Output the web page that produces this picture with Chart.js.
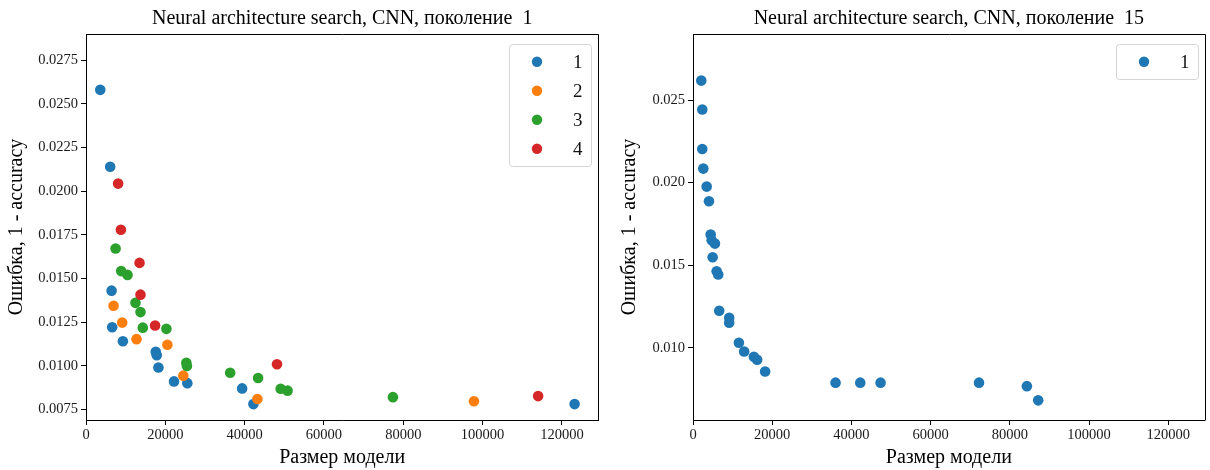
<!DOCTYPE html>
<html>
<head>
<meta charset="utf-8">
<script src="https://cdn.jsdelivr.net/npm/chart.js"></script>
<style>
  body { margin: 0; background: #fff; }
  #wrap { position: relative; width: 1210px; height: 470px; }
  canvas { position: absolute; top: 0; }
  #gen1 { left: 0; }
  #gen15 { left: 605px; }
</style>
</head>
<body>
<div id="wrap">
  <canvas id="gen1" width="605" height="470"></canvas>
  <canvas id="gen15" width="605" height="470"></canvas>
</div>
<script>
// data //
const seriesLabels = ['1', '2', '3', '4'];
const seriesColors = ['#1f77b4', '#ff7f0e', '#2ca02c', '#d62728'];

// generation 1, model size / error, one pair per group
const size1 = [3600, 6100, 6450, 6600, 9300, 17590, 17840, 18260, 22190, 25550, 39370, 42210, 123200];
const err1 = [0.0258, 0.0214, 0.0143, 0.0122, 0.0114, 0.0108, 0.0106, 0.0099, 0.0091, 0.0090, 0.0087, 0.0078, 0.0078];
const size2 = [6950, 9130, 12740, 20520, 24540, 43220, 97820];
const err2 = [0.01343, 0.01247, 0.01152, 0.0112, 0.00943, 0.00809, 0.00796];
const size3 = [7460, 8870, 10470, 12480, 13740, 14320, 20270, 25300, 25450, 36350, 43390, 49080, 50830, 77390];
const err3 = [0.01671, 0.01542, 0.0152, 0.0136, 0.01307, 0.01218, 0.01211, 0.01017, 0.00998, 0.0096, 0.0093, 0.00868, 0.00857, 0.0082];
const size4 = [8100, 8800, 13500, 13740, 17420, 48160, 114000];
const err4 = [0.02043, 0.01779, 0.01589, 0.01407, 0.0123, 0.01008, 0.00826];

// generation 15, single group
const size15 = [2090, 2340, 2340, 2600, 3450, 4030, 4460, 4710, 5540, 4960, 5970, 6370, 6620, 9140, 9140,
    11590, 12920, 15370, 16200, 18210, 35990, 42230, 47360, 72220, 84300, 87160];
const err15 = [0.02618, 0.02443, 0.02204, 0.02085, 0.01976, 0.01887, 0.01686, 0.01651, 0.01631, 0.01548, 0.01464, 0.01444, 0.01224, 0.01182, 0.01152,
    0.01031, 0.00978, 0.00946, 0.00928, 0.00857, 0.00789, 0.00789, 0.00789, 0.00789, 0.00768, 0.00682];

// tick labels
const xTicks = [0, 20000, 40000, 60000, 80000, 100000, 120000];
const yTicks1 = [0.0075, 0.0100, 0.0125, 0.0150, 0.0175, 0.0200, 0.0225, 0.0250, 0.0275];
const yTicks15 = [0.010, 0.015, 0.020, 0.025];

const FONT = '"Liberation Serif", "Times New Roman", serif';

function toPoints(xs, ys) {
    return xs.map((x, i) => ({ x: x, y: ys[i] }));
}

// top + right spines, matplotlib style box
const frame = {
    id: 'frame',
    afterDraw(chart) {
        const ctx = chart.ctx;
        const a = chart.chartArea;
        ctx.save();
        ctx.strokeStyle = '#000';
        ctx.lineWidth = 1;
        ctx.beginPath();
        ctx.moveTo(Math.round(a.left) + 0.5, Math.round(a.top) + 0.5);
        ctx.lineTo(Math.round(a.right) + 0.5, Math.round(a.top) + 0.5);
        ctx.lineTo(Math.round(a.right) + 0.5, Math.round(a.bottom) + 0.5);
        ctx.stroke();
        ctx.restore();
    }
};

// legend box in the upper right corner of the plot
const boxLegend = {
    id: 'boxLegend',
    afterDraw(chart) {
        const ctx = chart.ctx;
        const a = chart.chartArea;
        const sets = chart.data.datasets;
        const w = 82, row = 29;
        const h = 35 + (sets.length - 1) * row;
        const x = Math.round(a.right - 7 - w);
        const y = Math.round(a.top + 10);
        ctx.save();
        ctx.fillStyle = 'rgba(255,255,255,0.8)';
        ctx.strokeStyle = '#d4d4d4';
        ctx.lineWidth = 1;
        ctx.beginPath();
        ctx.roundRect(x + 0.5, y + 0.5, w, h, 3);
        ctx.fill();
        ctx.stroke();
        ctx.font = '19px ' + FONT;
        ctx.textBaseline = 'middle';
        sets.forEach((ds, i) => {
            const cy = y + 17.7 + i * row;
            ctx.fillStyle = ds.backgroundColor;
            ctx.beginPath();
            ctx.arc(x + 28, cy, 5.2, 0, Math.PI * 2);
            ctx.fill();
            ctx.fillStyle = '#111';
            ctx.fillText(ds.label, x + 64, cy + 1);
        });
        ctx.restore();
    }
};

function makeChart(id, title, datasets, yTicks, yDigits, yMin, yMax, yWidth, yTitlePad, rightPad) {
    return new Chart(document.getElementById(id), {
        type: 'scatter',
        data: { datasets: datasets },
        options: {
            responsive: false,
            animation: false,
            layout: { padding: { right: rightPad } },
            plugins: {
                legend: { display: false },
                tooltip: { enabled: false },
                title: {
                    display: true,
                    text: title,
                    fullSize: false,
                    color: '#000',
                    font: { family: FONT, size: 20, weight: 'normal', lineHeight: 1.2 },
                    padding: { top: 7, bottom: 3 }
                }
            },
            scales: {
                x: {
                    type: 'linear',
                    min: 0,
                    max: 129200,
                    afterBuildTicks: (scale) => { scale.ticks = xTicks.map(v => ({ value: v })); },
                    afterFit: (scale) => { scale.height = 50; },
                    grid: { drawOnChartArea: false, drawTicks: true, tickLength: 5, color: '#000' },
                    border: { display: true, color: '#000' },
                    ticks: {
                        color: '#1a1a1a',
                        padding: 1,
                        maxRotation: 0,
                        font: { family: FONT, size: 14.5 },
                        callback: (v) => String(v)
                    },
                    title: {
                        display: true,
                        text: 'Размер модели',
                        color: '#000',
                        font: { family: FONT, size: 20, lineHeight: 1.2 },
                        padding: { top: 0, bottom: 0 }
                    }
                },
                y: {
                    type: 'linear',
                    min: yMin,
                    max: yMax,
                    afterBuildTicks: (scale) => { scale.ticks = yTicks.map(v => ({ value: v })); },
                    afterFit: (scale) => { scale.width = yWidth; },
                    grid: { drawOnChartArea: false, drawTicks: true, tickLength: 5, color: '#000' },
                    border: { display: true, color: '#000' },
                    ticks: {
                        color: '#1a1a1a',
                        padding: 3,
                        font: { family: FONT, size: 14.5 },
                        callback: (v) => Number(v).toFixed(yDigits)
                    },
                    title: {
                        display: true,
                        text: 'Ошибка, 1 - accuracy',
                        color: '#000',
                        font: { family: FONT, size: 20, lineHeight: 1.2 },
                        padding: { top: yTitlePad, bottom: 0 }
                    }
                }
            }
        },
        plugins: [frame, boxLegend]
    });
}

function scatterSet(label, color, pts, order) {
    return {
        label: label,
        data: pts,
        backgroundColor: color,
        borderWidth: 0,
        pointRadius: 5.3,
        pointHoverRadius: 5.3,
        order: order
    };
}

// later groups drawn on top like in matplotlib
const gen1Sets = [
    scatterSet(seriesLabels[0], seriesColors[0], toPoints(size1, err1), 3),
    scatterSet(seriesLabels[1], seriesColors[1], toPoints(size2, err2), 2),
    scatterSet(seriesLabels[2], seriesColors[2], toPoints(size3, err3), 1),
    scatterSet(seriesLabels[3], seriesColors[3], toPoints(size4, err4), 0)
];
const gen15Sets = [
    scatterSet(seriesLabels[0], seriesColors[0], toPoints(size15, err15), 0)
];

makeChart('gen1', 'Neural architecture search, CNN, поколение  1', gen1Sets,
    yTicks1, 4, 0.00689, 0.0290, 86, 5, 6.6);
makeChart('gen15', 'Neural architecture search, CNN, поколение  15', gen15Sets,
    yTicks15, 3, 0.00563, 0.0290, 88, 13, 4.6);
</script>
</body>
</html>
